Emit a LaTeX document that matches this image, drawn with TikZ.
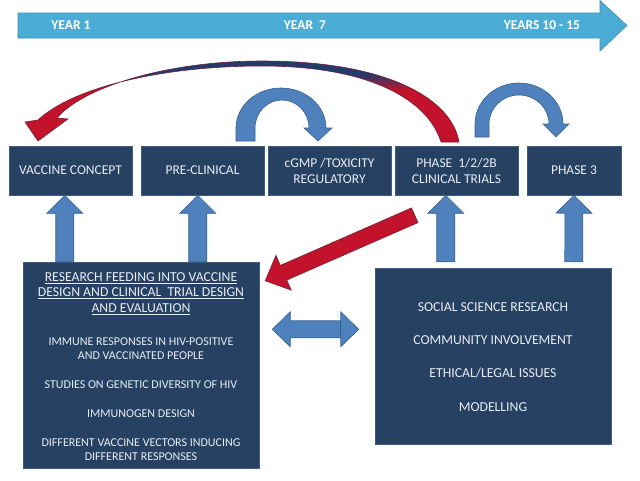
\documentclass[tikz,border=0pt]{standalone}
\usepackage{fontspec}
\setmainfont{Carlito}
\usetikzlibrary{calc}
\definecolor{boxfill}{HTML}{264162}
\definecolor{boxline}{HTML}{3D5C82}
\definecolor{boxtext}{HTML}{E8EDF4}
\definecolor{tlfill}{HTML}{4BADD6}
\definecolor{tlline}{HTML}{3A8CB4}
\definecolor{bfill}{HTML}{4F81BD}
\definecolor{bline}{HTML}{37608F}
\definecolor{rfill}{HTML}{C3132C}
\definecolor{rline}{HTML}{6E2236}
\definecolor{ctop}{HTML}{213B6B}
\pgfdeclareverticalshading{curveshade}{100bp}{color(0bp)=(rfill); color(57bp)=(rfill); color(67bp)=(ctop); color(100bp)=(ctop)}
\newcommand\FatArr[6]{%
  \coordinate (fa-hb) at ($(#3)!#6!(#2)$);
  \draw[#1] ($(#2)!#4!90:(#3)$) -- ($(fa-hb)!#4!90:(#3)$) -- ($(fa-hb)!#5!90:(#3)$) -- (#3)
    -- ($(fa-hb)!#5!-90:(#3)$) -- ($(fa-hb)!#4!-90:(#3)$) -- ($(#2)!#4!-90:(#3)$) -- cycle;}
\begin{document}
\begin{tikzpicture}[x=1pt,y=-1pt,
  box/.style={draw=boxline, line width=0.5pt, fill=boxfill, text=boxtext, align=center, inner sep=0pt,
              font=\fontsize{13.5}{16}\selectfont},
  bluearr/.style={draw=bline, line width=0.6pt, fill=bfill},
  redarr/.style={draw=rline, line width=0.6pt, fill=rfill},
  yeartext/.style={text=white, font=\bfseries\fontsize{13.5}{16}\selectfont, inner sep=0pt},
  head/.style={text=boxtext, font=\fontsize{13.7}{16}\selectfont, anchor=base, inner sep=0pt},
  body/.style={text=boxtext, font=\fontsize{12}{14}\selectfont, anchor=base, inner sep=0pt}]
\useasboundingbox (0,0) rectangle (640,480);

% timeline arrow
\draw[draw=tlline, line width=0.6pt, fill=tlfill] (18,13) -- (600,13) -- (600,0.5) -- (627,25.5) -- (600,51) -- (600,38) -- (18,38) -- cycle;
\node[yeartext] (y1) at (71,25.5) {YEAR 1};
\node[yeartext] (y7) at (305,25.5) {YEAR\ \ 7};
\node[yeartext] (y10) at (542,25.5) {YEARS 10 - 15};

% stage boxes
\node[box, minimum width=123pt, minimum height=49pt] (vc) at (70.5,170.5) {VACCINE CONCEPT};
\node[box, minimum width=123pt, minimum height=49pt] (pc) at (202.5,170.5) {PRE-CLINICAL};
\node[box, minimum width=123pt, minimum height=49pt] (cg) at (329.5,170.5) {cGMP /TOXICITY\\REGULATORY};
\node[box, minimum width=123pt, minimum height=49pt] (ph) at (456.5,170.5) {PHASE\ \ 1/2/2B\\CLINICAL TRIALS};
\node[box, minimum width=94pt, minimum height=49pt] (p3) at (574,170.5) {PHASE 3};

% research boxes
\node[box, minimum width=236pt, minimum height=206pt] (res) at (141,365) {};
\node[box, minimum width=236pt, minimum height=176pt] (soc) at (493,356) {};

\node[head] (h1) at (141,281.4) {\underline{RESEARCH FEEDING INTO VACCINE}};
\node[head] (h2) at (141,296.9) {\underline{DESIGN AND CLINICAL\ \ TRIAL DESIGN}};
\node[head] (h3) at (141,312.4) {\underline{AND EVALUATION}};
\node[body] (t1) at (141,345.9) {IMMUNE RESPONSES IN HIV-POSITIVE};
\node[body] (t2) at (141,359.9) {AND VACCINATED PEOPLE};
\node[body] (t3) at (141,388.9) {STUDIES ON GENETIC DIVERSITY OF HIV};
\node[body] (t4) at (141,417.9) {IMMUNOGEN DESIGN};
\node[body] (t5) at (141,446.9) {DIFFERENT VACCINE VECTORS INDUCING};
\node[body] (t6) at (141,460.9) {DIFFERENT RESPONSES};

\node[head] (s1) at (493,311.4) {SOCIAL SCIENCE RESEARCH};
\node[head] (s2) at (493,344.4) {COMMUNITY INVOLVEMENT};
\node[head] (s3) at (493,377.4) {ETHICAL/LEGAL ISSUES};
\node[head] (s4) at (493,411.4) {MODELLING};

% red curved arrow (phase 1/2/2B back to vaccine concept)
\coordinate (rc-tip) at (38,141);
\draw[draw=rline, line width=0.6pt, shade, shading=curveshade]
  (459,142) .. controls (452,100) and (390,61) .. (262,61)
  .. controls (165,61) and (82,88) .. (57,118) -- (68,119) -- (rc-tip) -- (25,122) -- (38,120)
  .. controls (72,88) and (160,66) .. (262,66)
  .. controls (370,66) and (428,100) .. (441,142) -- cycle;

% blue curved arrow: pre-clinical -> cGMP
\draw[bluearr] (236,141) -- (236,128) .. controls (236,105.9) and (256.1,88) .. (281,88)
  .. controls (305.9,88) and (326,105.9) .. (326,128) -- (332,128) -- (318,141) -- (304,128) -- (309,128)
  .. controls (309,112.5) and (296.9,100) .. (282,100) .. controls (267.1,100) and (255,112.5) .. (255,128)
  -- (255,141) -- cycle;

% blue curved arrow: phase 1/2/2B -> phase 3
\draw[bluearr] (475,137) -- (475,124) .. controls (475,101.4) and (494.7,83) .. (519,83)
  .. controls (543.3,83) and (563,101.4) .. (563,124) -- (569,124) -- (556,137) -- (543,124) -- (549,124)
  .. controls (549,108) and (535.6,95) .. (519,95) .. controls (502.4,95) and (489,108) .. (489,124)
  -- (489,137) -- cycle;

% up arrows
\coordinate (u1b) at ($(res.north west)+(42,0)$);
\coordinate (u1t) at ($(vc.south west)+(56,0)$);
\coordinate (u2b) at ($(res.north west)+(175,0)$);
\coordinate (u2t) at ($(pc.south west)+(57,0)$);
\coordinate (u3b) at ($(soc.north west)+(71,-6)$);
\coordinate (u3t) at ($(ph.south west)+(51,0)$);
\coordinate (u4b) at ($(soc.north west)+(199,-6)$);
\coordinate (u4t) at ($(p3.south)$);
\FatArr{bluearr}{u1b}{u1t}{9pt}{18pt}{18pt}
\FatArr{bluearr}{u2b}{u2t}{9pt}{18pt}{18pt}
\FatArr{bluearr}{u3b}{u3t}{9pt}{18pt}{18pt}
\FatArr{bluearr}{u4b}{u4t}{9pt}{18pt}{18pt}

% red straight arrow: phase 1/2/2B -> research box
\coordinate (rs) at ($(ph.south west)+(20,20)$);
\coordinate (re) at ($(res.north east)+(6,19)$);
\FatArr{redarr}{rs}{re}{8pt}{19pt}{20pt}

% double arrow between research boxes
\coordinate (da1) at ($(res.north east)+(13,67.5)$);
\coordinate (da2) at ($(soc.north west)+(-16,61.5)$);
\draw[bluearr] (da1) -- ($(da1)+(18,-17.5)$) -- ($(da1)+(18,-8.5)$) -- ($(da2)+(-18,-8.5)$)
  -- ($(da2)+(-18,-17.5)$) -- (da2) -- ($(da2)+(-18,17.5)$) -- ($(da2)+(-18,8.5)$)
  -- ($(da1)+(18,8.5)$) -- ($(da1)+(18,17.5)$) -- cycle;
\draw[draw=bline, line width=0.6pt] ($(da2)+(-18,-8.5)$) -- ($(da2)+(-18,8.5)$);
\end{tikzpicture}
\end{document}
